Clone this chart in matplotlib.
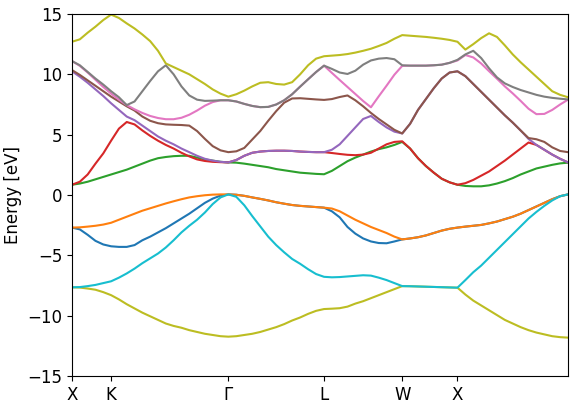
import numpy as np
import matplotlib.pyplot as plt

# k-path X-K-Γ-L-W-X-Γ (fcc), segment lengths in units of 2π/a
seg_len = [np.sqrt(2) / 4, 3 * np.sqrt(2) / 4, np.sqrt(3) / 2, np.sqrt(2) / 2, 0.5, 1.0]
seg_pts = [5, 15, 12, 10, 7, 14]
labels = ["X", "K", "Γ", "L", "W", "X"]

# band energies (eV), read at the k-points along the path
blue = [-2.70, -2.85, -3.30, -3.80, -4.10, -4.25,
        -4.30, -4.30, -4.15, -3.75, -3.45, -3.10, -2.75, -2.35, -1.95, -1.55, -1.10, -0.65, -0.30, -0.05, 0.05,
        0.02, -0.07, -0.20, -0.32, -0.45, -0.60, -0.72, -0.83, -0.90, -0.95, -1.00, -1.05,
        -1.35, -1.85, -2.65, -3.20, -3.60, -3.85, -3.98, -4.00, -3.85, -3.68,
        -3.60, -3.50, -3.35, -3.15, -2.95, -2.80, -2.70,
        -2.62, -2.55, -2.48, -2.35, -2.20, -2.00, -1.80, -1.55, -1.25, -0.95, -0.65, -0.35, -0.10, 0.05]
orange = [-2.70, -2.68, -2.62, -2.55, -2.45, -2.30,
          -2.05, -1.80, -1.55, -1.30, -1.10, -0.90, -0.70, -0.52, -0.35, -0.20, -0.10, -0.02, 0.03, 0.05, 0.05,
          0.02, -0.07, -0.20, -0.32, -0.45, -0.60, -0.72, -0.83, -0.90, -0.95, -1.00, -1.05,
          -1.12, -1.35, -1.70, -2.05, -2.35, -2.65, -2.90, -3.15, -3.45, -3.68,
          -3.60, -3.50, -3.35, -3.15, -2.95, -2.80, -2.70,
          -2.62, -2.55, -2.48, -2.35, -2.20, -2.00, -1.80, -1.55, -1.25, -0.95, -0.65, -0.35, -0.10, 0.05]
green = [0.85, 0.95, 1.10, 1.30, 1.50, 1.70,
         1.90, 2.10, 2.35, 2.60, 2.85, 3.05, 3.15, 3.22, 3.25, 3.25, 3.10, 2.95, 2.85, 2.75, 2.70,
         2.68, 2.60, 2.50, 2.40, 2.30, 2.15, 2.05, 1.95, 1.85, 1.80, 1.75, 1.72,
         2.00, 2.40, 2.80, 3.10, 3.35, 3.60, 3.80, 3.95, 4.15, 4.40,
         3.85, 3.05, 2.40, 1.85, 1.35, 1.05, 0.85,
         0.75, 0.72, 0.72, 0.80, 0.95, 1.15, 1.40, 1.70, 1.95, 2.20, 2.35, 2.50, 2.62, 2.68]
red = [0.85, 1.10, 1.70, 2.60, 3.45, 4.50,
       5.50, 6.05, 5.85, 5.35, 4.90, 4.50, 4.15, 3.85, 3.50, 3.20, 2.95, 2.82, 2.75, 2.72, 2.70,
       2.90, 3.25, 3.50, 3.60, 3.65, 3.67, 3.67, 3.65, 3.60, 3.57, 3.55, 3.55,
       3.48, 3.40, 3.33, 3.30, 3.35, 3.50, 3.85, 4.20, 4.40, 4.45,
       3.85, 3.05, 2.40, 1.85, 1.35, 1.05, 0.85,
       0.98, 1.25, 1.60, 1.95, 2.40, 2.85, 3.35, 3.85, 4.35, 4.15, 3.75, 3.35, 3.00, 2.70]
purple = [10.25, 9.80, 9.30, 8.75, 8.20, 7.60,
          7.05, 6.50, 6.20, 5.75, 5.30, 4.85, 4.50, 4.20, 3.85, 3.55, 3.25, 3.00, 2.85, 2.75, 2.70,
          2.90, 3.25, 3.50, 3.60, 3.65, 3.67, 3.67, 3.65, 3.60, 3.57, 3.55, 3.55,
          3.75, 4.20, 4.90, 5.60, 6.30, 6.55, 6.05, 5.60, 5.25, 5.10,
          5.90, 7.05, 7.95, 8.85, 9.65, 10.15, 10.25,
          9.85, 9.20, 8.55, 7.90, 7.25, 6.60, 6.00, 5.35, 4.65, 4.15, 3.75, 3.35, 3.00, 2.70]
brown = [10.35, 9.95, 9.50, 9.05, 8.60, 8.15,
         7.75, 7.35, 7.00, 6.50, 6.15, 5.95, 5.85, 5.82, 5.80, 5.75, 5.30, 4.65, 4.05, 3.70, 3.55,
         3.62, 3.90, 4.60, 5.30, 6.15, 6.95, 7.65, 8.00, 8.02, 7.97, 7.92, 7.88,
         7.95, 8.12, 8.25, 7.85, 7.35, 6.80, 6.30, 5.85, 5.40, 5.10,
         5.90, 7.05, 7.95, 8.85, 9.65, 10.15, 10.25,
         9.85, 9.20, 8.55, 7.90, 7.25, 6.60, 6.00, 5.35, 4.72, 4.62, 4.40, 3.95, 3.65, 3.55]
pink = [11.10, 10.70, 10.15, 9.55, 8.95, 8.40,
        7.90, 7.45, 7.10, 6.80, 6.55, 6.38, 6.28, 6.28, 6.40, 6.65, 7.00, 7.40, 7.70, 7.85, 7.85,
        7.75, 7.55, 7.38, 7.28, 7.30, 7.50, 7.85, 8.35, 8.98, 9.59, 10.19, 10.72,
        10.12, 9.53, 8.95, 8.37, 7.79, 7.27, 8.18, 9.06, 9.97, 10.70,
        10.72, 10.72, 10.72, 10.75, 10.80, 10.95, 11.15,
        11.60, 11.40, 10.90, 10.26, 9.64, 9.00, 8.42, 7.80, 7.15, 6.70, 6.72, 7.05, 7.50, 7.90]
gray = [11.10, 10.75, 10.20, 9.65, 9.15, 8.60,
        8.10, 7.45, 7.75, 8.60, 9.45, 10.25, 10.75, 10.00, 9.00, 8.25, 7.90, 7.80, 7.82, 7.85, 7.85,
        7.75, 7.55, 7.38, 7.28, 7.30, 7.50, 7.85, 8.35, 8.98, 9.59, 10.19, 10.72,
        10.45, 10.15, 10.03, 10.30, 10.80, 11.15, 11.30, 11.35, 11.25, 10.75,
        10.72, 10.72, 10.72, 10.75, 10.80, 10.95, 11.20,
        11.65, 11.95, 11.35, 10.50, 9.75, 9.25, 8.95, 8.70, 8.50, 8.30, 8.15, 8.05, 7.98, 7.92]
olive_low = [-7.65, -7.67, -7.75, -7.85, -8.05, -8.30,
             -8.65, -9.05, -9.40, -9.75, -10.05, -10.35, -10.65, -10.85, -11.00, -11.20, -11.35, -11.50, -11.60, -11.70, -11.74,
             -11.70, -11.60, -11.50, -11.35, -11.15, -10.95, -10.70, -10.40, -10.15, -9.85, -9.60, -9.45,
             -9.42, -9.38, -9.25, -9.00, -8.80, -8.55, -8.30, -8.05, -7.80, -7.55,
             -7.56, -7.58, -7.60, -7.62, -7.64, -7.66, -7.68,
             -8.25, -8.75, -9.15, -9.55, -9.95, -10.35, -10.65, -10.95, -11.20, -11.40, -11.55, -11.70, -11.78, -11.82]
olive_high = [12.70, 12.90, 13.45, 13.95, 14.50, 14.95,
              14.67, 14.22, 13.80, 13.30, 12.75, 11.95, 10.90, 10.60, 10.30, 10.00, 9.60, 9.20, 8.75, 8.40, 8.15,
              8.35, 8.65, 9.00, 9.30, 9.35, 9.20, 9.15, 9.35, 10.00, 10.75, 11.30, 11.50,
              11.55, 11.60, 11.68, 11.80, 11.95, 12.12, 12.35, 12.60, 12.95, 13.25,
              13.20, 13.15, 13.10, 13.03, 12.95, 12.85, 12.70,
              12.05, 12.50, 13.00, 13.40, 13.10, 12.40, 11.65, 11.00, 10.40, 9.80, 9.20, 8.60, 8.30, 8.10]
cyan = [-7.65, -7.63, -7.55, -7.45, -7.30, -7.15,
        -6.85, -6.50, -6.10, -5.65, -5.25, -4.85, -4.35, -3.75, -3.10, -2.55, -2.05, -1.45, -0.75, -0.20, 0.05,
        -0.15, -0.85, -1.75, -2.60, -3.45, -4.15, -4.75, -5.30, -5.70, -6.15, -6.55, -6.78,
        -6.82, -6.80, -6.75, -6.70, -6.65, -6.68, -6.85, -7.05, -7.30, -7.55,
        -7.56, -7.58, -7.60, -7.62, -7.64, -7.66, -7.68,
        -7.05, -6.40, -5.85, -5.20, -4.55, -3.90, -3.25, -2.60, -1.95, -1.40, -0.90, -0.45, -0.10, 0.05]

# k values along the path
k = [0.0]
start = 0.0
for L, n in zip(seg_len, seg_pts):
    k += list(np.linspace(start, start + L, n + 1)[1:])
    start += L
k = np.array(k)
ticks = np.concatenate([[0.0], np.cumsum(seg_len)])

bands = [(blue, "tab:blue"), (orange, "tab:orange"), (green, "tab:green"),
         (red, "tab:red"), (purple, "tab:purple"), (brown, "tab:brown"),
         (pink, "tab:pink"), (gray, "tab:gray"), (olive_low, "tab:olive"),
         (olive_high, "tab:olive"), (cyan, "tab:cyan")]

fig = plt.figure(figsize=(5.79, 4.08), dpi=100)
ax = fig.add_axes([0.1244, 0.0784, 0.8566, 0.8873])
for e, c in bands:
    ax.plot(k, e, color=c, lw=1.5)

ax.set_xlim(0, ticks[-1])
ax.set_ylim(-15, 15)
ax.set_xticks(ticks[:6])
ax.set_xticklabels(labels)
ax.tick_params(labelsize=12)
ax.set_ylabel("Energy [eV]", fontsize=12)

fig.savefig("out.png", dpi=100)
